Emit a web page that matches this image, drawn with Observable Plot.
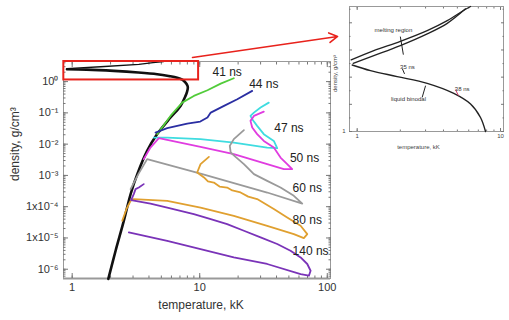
<!DOCTYPE html>
<html><head><meta charset="utf-8">
<script src="https://cdn.jsdelivr.net/npm/d3@7"></script>
<script src="https://cdn.jsdelivr.net/npm/@observablehq/plot@0.6"></script>
<style>
body{margin:0;background:#fff;width:509px;height:320px;overflow:hidden;position:relative;font-family:"Liberation Sans",Arial,sans-serif}
#main,#inset{position:absolute;top:0}
#main{left:0}
#inset{left:330px}
</style></head><body><div id="inset"></div><div id="main"></div>
<script>
// ---------- main chart data (temperature kK, density g/cm3) ----------
const xDomain = [0.855, 106];
const yDomain = [5.05e-7, 4.4];
const xTickValues = [1, 10, 100];
const xTickLabels = ["1", "10", "100"];
const yTickValues = [1, 0.1, 0.01, 1e-3, 1e-4, 1e-5, 1e-6];
const yTickLabels = ["10\u2070", "10\u207B\u00B9", "10\u207B\u00B2", "10\u207B\u00B3", "1x10\u207B\u2074", "1x10\u207B\u2075", "10\u207B\u2076"];

const binT = [0.91, 1.3, 2.12, 3.3, 4.64, 5.7, 6.66, 7.3, 7.74, 8.0, 8.07, 7.95, 7.74, 7.07, 5.9, 4.64, 3.87, 3.24, 2.87, 2.54, 2.19, 1.92];
const binR = [2.49, 2.42, 2.2, 1.95, 1.72, 1.52, 1.34, 1.15, 0.93, 0.75, 0.64, 0.47, 0.35, 0.167, 0.071, 0.021, 0.0061, 0.0011, 2.5e-4, 3.5e-5, 3.9e-6, 4.9e-7];
const meltT = [0.91, 1.67, 3.33, 4.3, 5.2];
const meltR = [2.6, 3.0, 3.55, 4.05, 4.4];

const t41 = [4.64, 5.9, 7.29, 8.99, 11.5, 14.6, 18.5];
const r41 = [0.0209, 0.080, 0.213, 0.349, 0.531, 0.863, 1.28];
const t44 = [4.5, 5.56, 7.98, 10.1, 11.5, 12.2, 15.5, 19.7, 25.8];
const r44 = [0.0235, 0.0324, 0.0455, 0.0527, 0.0708, 0.102, 0.167, 0.274, 0.505];
const t47 = [4.37, 5.56, 10.15, 18.5, 33.8, 40.5, 38.1, 31.8, 28.2, 25.8, 25.0, 26.6, 30.0, 34.8];
const r47 = [0.01625, 0.01625, 0.01445, 0.01125, 0.00779, 0.00745, 0.0127, 0.0209, 0.0385, 0.063, 0.080, 0.102, 0.148, 0.213];
const t50 = [3.64, 4.11, 4.78, 10.15, 18.5, 33.8, 45.7, 53.1, 48.5, 43.0, 38.1, 31.8, 28.2, 25.8, 25.0, 26.6, 31.8];
const r50 = [0.00332, 0.00779, 0.01555, 0.0082, 0.0048, 0.0023, 0.00159, 0.00159, 0.0023, 0.00373, 0.00779, 0.0127, 0.0209, 0.0339, 0.0555, 0.080, 0.110];
const t60 = [2.87, 3.31, 3.87, 10.15, 33.8, 63.7, 54.7, 43.0, 33.8, 26.6, 22.2, 19.1, 17.5, 17.2, 18.5, 22.2];
const r60 = [3.65e-4, 1.12e-3, 3.32e-3, 1.15e-3, 2.84e-4, 1.26e-4, 2.23e-4, 4.1e-4, 6.7e-4, 1.1e-3, 2.3e-3, 3.9e-3, 5.4e-3, 8.8e-3, 0.01445, 0.028];
const t80 = [2.47, 2.67, 2.87, 3.04, 5.56, 10.15, 18.5, 33.8, 54.7, 65.5, 69.7, 61.8, 48.5, 38.1, 28.2, 24.0, 20.9, 18.0, 16.4, 14.3, 12.9, 11.6, 10.8, 9.55, 10.15, 11.8];
const r80 = [3.55e-5, 8.6e-5, 1.54e-4, 1.75e-4, 1.54e-4, 9.4e-5, 5.1e-5, 2.45e-5, 1.33e-5, 9.9e-6, 1.33e-5, 2.45e-5, 4.5e-5, 8.4e-5, 1.75e-4, 2.1e-4, 2.85e-4, 3.3e-4, 4.1e-4, 4.4e-4, 5.9e-4, 6.4e-4, 8.6e-4, 1.24e-3, 2.3e-3, 3.93e-3];
const t140 = [3.64, 3.33, 3.14, 3.04, 2.90, 4.11, 5.56, 8.99, 12.2, 16.4, 22.2, 30.0, 40.5, 51.5, 61.8, 69.7, 74.0, 71.8, 61.8, 33.8, 18.5, 10.15, 5.56, 2.78];
const r140 = [5.27e-4, 4.1e-4, 3.65e-4, 2.53e-4, 1.63e-4, 1.26e-4, 9.4e-5, 5.8e-5, 4.0e-5, 2.78e-5, 1.7e-5, 1.04e-5, 6.4e-6, 3.9e-6, 2.38e-6, 1.47e-6, 8.95e-7, 6.2e-7, 7.0e-7, 1.47e-6, 2.38e-6, 4.4e-6, 8.1e-6, 1.5e-5];

const seriesNames = ["41 ns", "44 ns", "47 ns", "50 ns", "60 ns", "80 ns", "140 ns"];
const seriesColors = ["#52cc3a", "#2a2ea2", "#3fdce0", "#e03ce0", "#9a9a9a", "#e0a030", "#7a33b8"];
const seriesT = [t41, t44, t47, t50, t60, t80, t140];
const seriesR = [r41, r44, r47, r50, r60, r80, r140];
const labelT = [16.4, 31.8, 50, 66.4, 69.7, 69.7, 74];
const labelR = [2.04, 0.826, 0.0324, 0.00357, 3.8e-4, 3.73e-5, 3.9e-6];

const zoomBox = [{x1: 0.86, x2: 9.8, y1: 1.13, y2: 4.4}];
const arrowLink = [{x1: 8.78, y1: 5.93, x2: 120.5, y2: 27.8}];

// ---------- inset data ----------
const insXDomain = [0.884, 10.49];
const insYDomain = [1, 3.3];
const insXTicks = [1, 10];
const insYTicks = [1];
const insBinT = [0.923, 1.238, 1.90, 3.08, 4.72, 6.18, 7.25, 7.86];
const insBinR = [2.224, 2.12, 2.01, 1.885, 1.70, 1.505, 1.258, 1.0];
const insMeltUpT = [0.908, 1.306, 2.0, 3.08, 4.25, 5.55, 6.18];
const insMeltUpR = [2.317, 2.488, 2.66, 2.857, 3.04, 3.23, 3.30];
const insMeltLoT = [0.938, 1.306, 2.0, 3.08, 4.25, 5.70];
const insMeltLoR = [2.254, 2.396, 2.58, 2.796, 2.99, 3.257];
const insLabels = ["melting region", "35 ns", "liquid binodal", "38 ns"];
const insLabelT = [1.79, 2.24, 2.28, 5.4];
const insLabelR = [2.875, 2.18, 1.60, 1.78];
const insLeaders = [
  {x1: 2.0, y1: 2.746, x2: 2.10, y2: 2.414, c: "#222"},
  {x1: 2.07, y1: 2.15, x2: 2.14, y2: 2.06, c: "#222"},
  {x1: 3.0, y1: 1.843, x2: 2.84, y2: 1.627, c: "#222"},
  {x1: 4.85, y1: 1.77, x2: 5.09, y2: 1.66, c: "#d23a6a"}
];

// ---------- helpers ----------
const rows = (T, R, extra = {}) => T.map((t, i) => ({T: t, rho: R[i], ...extra}));
const logMinor = (lo, hi, eLo, eHi) => {
  const out = [];
  for (let e = eLo; e <= eHi; e++) for (let m = 1; m <= 9; m++) {
    const v = m * Math.pow(10, e);
    if (v >= lo && v <= hi) out.push(v);
  }
  return out;
};
const xMinor = logMinor(xDomain[0], xDomain[1], 0, 2);
const yMinor = logMinor(yDomain[0], yDomain[1], -7, 0);
const font = "Liberation Sans, Arial, sans-serif";
const tickCol = "#777";

function tickAxes(fx, fy, xMaj, xMin, yMaj, yMin, big, small) {
  const out = [];
  for (const a of ["bottom", "top"]) {
    out.push(fx(xMin, {anchor: a, tickSize: -small, tickFormat: () => "", stroke: tickCol, label: null}));
    out.push(fx(xMaj, {anchor: a, tickSize: -big, tickFormat: () => "", stroke: tickCol, label: null}));
  }
  for (const a of ["left", "right"]) {
    out.push(fy(yMin, {anchor: a, tickSize: -small, tickFormat: () => "", stroke: tickCol, label: null}));
    out.push(fy(yMaj, {anchor: a, tickSize: -big, tickFormat: () => "", stroke: tickCol, label: null}));
  }
  return out;
}

// ---------- main chart ----------
const lineMarks = seriesNames.map((s, k) =>
  Plot.line(rows(seriesT[k], seriesR[k]), {x: "T", y: "rho", stroke: seriesColors[k], strokeWidth: 1.8, curve: "linear"})
);

const main = Plot.plot({
  width: 340, height: 320,
  marginTop: 61, marginBottom: 42, marginLeft: 63, marginRight: 10,
  style: {background: "transparent", overflow: "visible", fontFamily: font},
  x: {type: "log", domain: xDomain, label: null},
  y: {type: "log", domain: yDomain, label: null},
  marks: [
    Plot.frame({stroke: "#999"}),
    Plot.ruleY([yDomain[0]], {stroke: "#999", strokeWidth: 2}),
    ...tickAxes(Plot.axisX, Plot.axisY, xTickValues, xMinor, yTickValues, yMinor, 5, 2.5),
    Plot.axisX(xTickValues, {anchor: "bottom", tickSize: 0, tickPadding: 5, label: null,
      tickFormat: d => xTickLabels[xTickValues.indexOf(d)], fontSize: 11, fill: "#333"}),
    Plot.axisY(yTickValues, {anchor: "left", tickSize: 0, tickPadding: 5, label: null,
      tickFormat: d => yTickLabels[yTickValues.indexOf(d)], fontSize: 11, fill: "#333"}),
    Plot.line(rows(meltT, meltR), {x: "T", y: "rho", stroke: "#111", strokeWidth: 1.4}),
    Plot.line(rows(binT, binR), {x: "T", y: "rho", stroke: "#111", strokeWidth: 2.6, curve: "catmull-rom"}),
    ...lineMarks,
    Plot.rect(zoomBox, {x1: "x1", x2: "x2", y1: "y1", y2: "y2", stroke: "#e8221c", strokeWidth: 2, fill: "none"}),
    Plot.arrow(arrowLink, {x1: "x1", y1: "y1", x2: "x2", y2: "y2", stroke: "#e8221c", strokeWidth: 1.6, headLength: 9}),
    Plot.text(seriesNames.map((s, k) => ({s, T: labelT[k], rho: labelR[k]})),
      {x: "T", y: "rho", text: "s", fontSize: 12, fill: "#222", textAnchor: "middle"}),
    Plot.text(["temperature, kK"], {frameAnchor: "bottom", dx: 4, dy: 30, fontSize: 12, fill: "#333"}),
    Plot.text(["density, g/cm\u00B3"], {frameAnchor: "left", dx: -48, dy: 11, rotate: -90, fontSize: 12, fill: "#333"})
  ]
});
document.getElementById("main").appendChild(main);

// ---------- inset ----------
const insXMinor = logMinor(insXDomain[0], insXDomain[1], 0, 1);
const inset = Plot.plot({
  width: 179, height: 170,
  marginTop: 6, marginBottom: 39, marginLeft: 19, marginRight: 6,
  style: {background: "transparent", overflow: "visible", fontFamily: font},
  x: {type: "log", domain: insXDomain, label: null},
  y: {type: "linear", domain: insYDomain, label: null},
  marks: [
    Plot.frame({stroke: "#999"}),
    ...tickAxes(Plot.axisX, Plot.axisY, insXTicks, insXMinor, [1, 1.5, 2, 2.5, 3], [1.25, 1.75, 2.25, 2.75, 3.25], 3, 1.5),
    Plot.axisX(insXTicks, {anchor: "bottom", tickSize: 0, tickPadding: 2, label: null, fontSize: 6, fill: "#444",
      tickFormat: d => String(d)}),
    Plot.axisY(insYTicks, {anchor: "left", tickSize: 0, tickPadding: 4, label: null, fontSize: 6, fill: "#444",
      tickFormat: d => String(d)}),
    Plot.line(rows(insMeltUpT, insMeltUpR), {x: "T", y: "rho", stroke: "#222", strokeWidth: 1.3, curve: "catmull-rom"}),
    Plot.line(rows(insMeltLoT, insMeltLoR), {x: "T", y: "rho", stroke: "#222", strokeWidth: 1.3, curve: "catmull-rom"}),
    Plot.line(rows(insBinT, insBinR), {x: "T", y: "rho", stroke: "#222", strokeWidth: 1.4, curve: "catmull-rom"}),
    Plot.link(insLeaders, {x1: "x1", y1: "y1", x2: "x2", y2: "y2", stroke: "c", strokeWidth: 1}),
    Plot.text(insLabels.map((s, k) => ({s, T: insLabelT[k], rho: insLabelR[k]})),
      {x: "T", y: "rho", text: "s", fontSize: 6, fill: "#333", textAnchor: "middle"}),
    Plot.text(["temperature, kK"], {frameAnchor: "bottom", dx: -8, dy: 17, fontSize: 6, fill: "#444"}),
    Plot.text(["density, g/cm\u00B3"], {frameAnchor: "left", dx: -14, dy: 23, rotate: -90, fontSize: 6, fill: "#444"})
  ]
});
document.getElementById("inset").appendChild(inset);
</script></body></html>
